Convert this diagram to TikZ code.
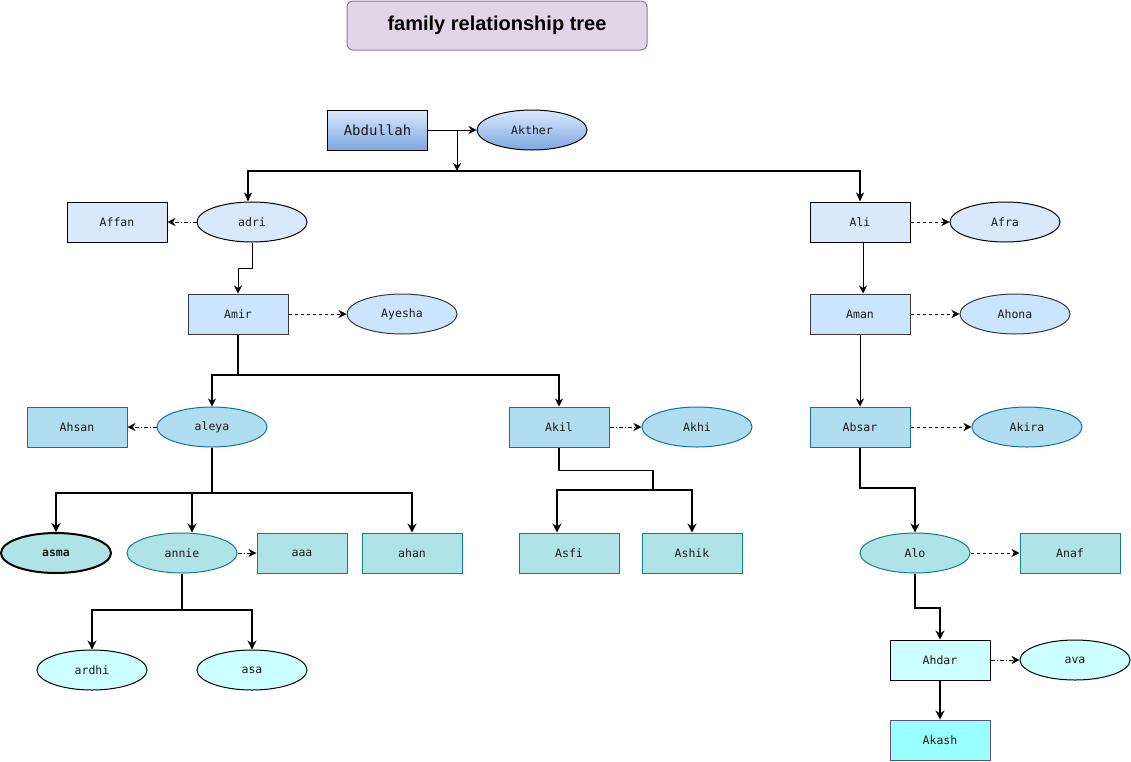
\documentclass[tikz,border=0pt]{standalone}
\usepackage{fontspec}
\setmainfont{Liberation Sans}
\newfontfamily\monof{DejaVu Sans Mono}
\usetikzlibrary{arrows.meta,calc,shapes.geometric}
\definecolor{cA}{HTML}{DAE8FC}
\definecolor{cAd}{HTML}{7EA6E0}
\definecolor{cB}{HTML}{CCE5FF}
\definecolor{cBs}{HTML}{36393D}
\definecolor{cC}{HTML}{B1DDF0}
\definecolor{cCs}{HTML}{10739E}
\definecolor{cD}{HTML}{B0E3E6}
\definecolor{cDs}{HTML}{0E8088}
\definecolor{cE}{HTML}{CCFFFF}
\definecolor{cF}{HTML}{99FFFF}
\definecolor{cFs}{HTML}{56517E}
\definecolor{tfill}{HTML}{E1D5E7}
\definecolor{tstroke}{HTML}{9673A6}
\definecolor{txt}{HTML}{1A1A1A}
\tikzset{
  base/.style={inner sep=0pt, line width=1pt, text=txt, font=\monof\fontsize{11.5}{13}\selectfont},
  rbox/.style={base, rectangle, minimum width=100pt, minimum height=40pt},
  ebox/.style={base, ellipse, minimum width=110pt, minimum height=40pt},
  sA/.style={fill=cA, draw=black},
  sB/.style={fill=cB, draw=cBs},
  sC/.style={fill=cC, draw=cCs},
  sD/.style={fill=cD, draw=cDs},
  sE/.style={fill=cE, draw=black},
  sF/.style={fill=cF, draw=cFs},
  sG/.style={top color=cA, bottom color=cAd, draw=black},
  thin arr/.style={line width=1pt, -{Stealth[length=8pt,width=8pt,inset=2.5pt]}},
  thick arr/.style={line width=2pt, -{Stealth[length=9pt,width=9pt,inset=3pt]}},
  dsh/.style={line width=1pt, dash pattern=on 3pt off 3pt, -{Stealth[length=8pt,width=8pt,inset=2.5pt]}},
  dshdot/.style={line width=1pt, dash pattern=on 4pt off 2pt on 1pt off 2pt, -{Stealth[length=8pt,width=8pt,inset=2.5pt]}},
}
\begin{document}
\begin{tikzpicture}[x=1pt,y=-1pt]
\useasboundingbox (0,0) rectangle (1131,761);
% title
\node[rectangle, rounded corners=6pt, fill=tfill, draw=tstroke, line width=1pt,
  minimum width=300pt, minimum height=49pt, inner sep=0pt,
  font=\bfseries\fontsize{20}{23}\selectfont] (title) at (497,25.5) {family relationship tree};
% nodes
\node[rbox, sG, font=\monof\fontsize{14}{16}\selectfont] (Abdullah) at (377.5,130) {Abdullah};
\node[ebox, sG] (Akther) at (532,130) {Akther};
\node[ebox, sA] (adri) at (252,222) {adri};
\node[rbox, sA] (Affan) at (117,222) {Affan};
\node[rbox, sA] (Ali) at (860,222) {Ali};
\node[ebox, sA] (Afra) at (1005,222) {Afra};
\node[rbox, sB] (Amir) at (238,314) {Amir};
\node[ebox, sB] (Ayesha) at (402,314) {Ayesha};
\node[rbox, sB] (Aman) at (860,314) {Aman};
\node[ebox, sB] (Ahona) at (1015,314) {Ahona};
\node[ebox, sC] (aleya) at (212,427) {aleya};
\node[rbox, sC] (Ahsan) at (77,427) {Ahsan};
\node[rbox, sC] (Akil) at (559,427) {Akil};
\node[ebox, sC] (Akhi) at (697,427) {Akhi};
\node[rbox, sC] (Absar) at (860,427) {Absar};
\node[ebox, sC] (Akira) at (1027,427) {Akira};
\node[ebox, fill=cD, draw=black, line width=2pt, font=\monof\bfseries\fontsize{11.5}{13}\selectfont] (asma) at (56,553) {asma};
\node[ebox, sD] (annie) at (182,553) {annie};
\node[rbox, sD, minimum width=90pt] (aaa) at (302,553) {aaa};
\node[rbox, sD] (ahan) at (412,553) {ahan};
\node[rbox, sD] (Asfi) at (569,553) {Asfi};
\node[rbox, sD] (Ashik) at (692,553) {Ashik};
\node[ebox, sD] (Alo) at (915,553) {Alo};
\node[rbox, sD] (Anaf) at (1070,553) {Anaf};
\node[ebox, sE] (ardhi) at (92,670) {ardhi};
\node[ebox, sE] (asa) at (252,670) {asa};
\node[rbox, sE] (Ahdar) at (940,660) {Ahdar};
\node[ebox, sE] (ava) at (1075,660) {ava};
\node[rbox, sF] (Akash) at (940,740) {Akash};
% junctions
\coordinate (m1) at ($(Abdullah.east)!0.6!(Akther.west)$);
\coordinate (j1) at (m1 |- 0,171);
\coordinate (j2) at (238,375);
\coordinate (j3) at (212,493);
\coordinate (j4) at (182,610);
\coordinate (j5) at (653,490);
% edges
\draw[thin arr] (Abdullah.east) -- (Akther.west);
\draw[thin arr] (m1) -- (j1);
\draw[line width=1.5pt, -{Stealth[length=9pt,width=8pt,inset=2.5pt]}] (j1) -| ([xshift=-4pt]adri.north);
\draw[line width=1.5pt, -{Stealth[length=9pt,width=8pt,inset=2.5pt]}] (j1) -| (Ali.north);
\draw[dshdot] (adri.west) -- (Affan.east);
\draw[thin arr] (adri.south) -- ++(0,26) -| (Amir.north);
\draw[dsh] (Amir.east) -- (Ayesha.west);
\draw[line width=2pt] (Amir.south) -- (j2);
\draw[thin arr, line width=1.5pt] (j2) -| (aleya.north);
\draw[thin arr, line width=1.5pt] (j2) -| (Akil.north);
\draw[dshdot] (aleya.west) -- (Ahsan.east);
\draw[dshdot] (Akil.east) -- (Akhi.west);
\draw[line width=1.5pt] (aleya.south) -- (j3);
\draw[thick arr] (j3) -| (asma.north);
\draw[thick arr] (j3) -| ([xshift=10pt]annie.north);
\draw[thick arr] (j3) -| (ahan.north);
\draw[dshdot] (annie.east) -- (aaa.west);
\draw[line width=1.5pt] (annie.south) -- (j4);
\draw[thick arr] (j4) -| (ardhi.north);
\draw[thick arr] (j4) -| (asa.north);
\draw[line width=1.5pt] (Akil.south) -- ++(0,23) -| (j5);
\draw[thick arr] (j5) -| ([xshift=-12pt]Asfi.north);
\draw[thick arr] (j5) -| (Ashik.north);
\draw[dsh] (Ali.east) -- (Afra.west);
\draw[thin arr] ([xshift=3pt]Ali.south) -- ([xshift=3pt]Aman.north);
\draw[dsh] (Aman.east) -- (Ahona.west);
\draw[thin arr] (Aman.south) -- (Absar.north);
\draw[dsh] (Absar.east) -- (Akira.west);
\draw[thick arr] (Absar.south) -- ++(0,40) -| (Alo.north);
\draw[dsh] (Alo.east) -- (Anaf.west);
\draw[thick arr] (Alo.south) -- ++(0,34) -| (Ahdar.north);
\draw[dshdot] (Ahdar.east) -- (ava.west);
\draw[thick arr] (Ahdar.south) -- (Akash.north);
\end{tikzpicture}
\end{document}
